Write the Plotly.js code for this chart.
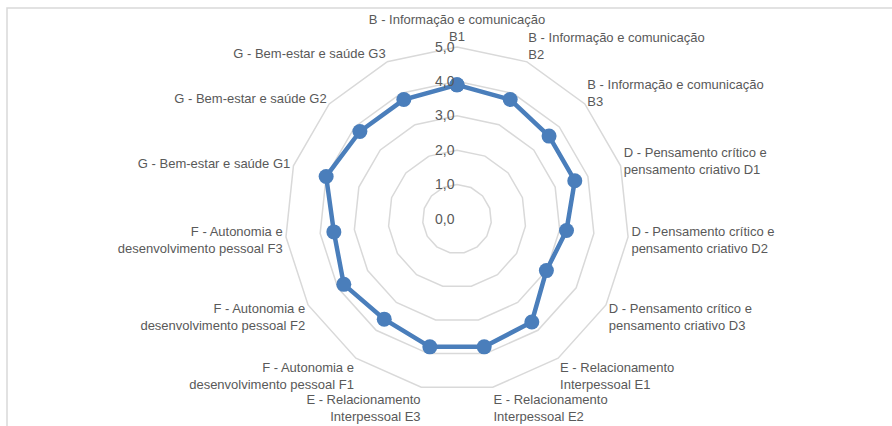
<!DOCTYPE html>
<html>
<head>
<meta charset="utf-8">
<script src="https://cdn.plot.ly/plotly-3.0.1.min.js"></script>
<style>
  html, body { margin: 0; padding: 0; background: #fff; }
  #chart { width: 892px; height: 426px; }
</style>
</head>
<body>
<div id="chart"></div>
<script>
const categories = [
  "B - Informação e comunicação<br>B1",
  "B - Informação e comunicação<br>B2",
  "B - Informação e comunicação<br>B3",
  "D - Pensamento crítico e<br>pensamento criativo D1",
  "D - Pensamento crítico e<br>pensamento criativo D2",
  "D - Pensamento crítico e<br>pensamento criativo D3",
  "E - Relacionamento<br>Interpessoal E1",
  "E - Relacionamento<br>Interpessoal E2",
  "E - Relacionamento<br>Interpessoal E3",
  "F - Autonomia e<br>desenvolvimento pessoal F1",
  "F - Autonomia e<br>desenvolvimento pessoal F2",
  "F - Autonomia e<br>desenvolvimento pessoal F3",
  "G - Bem-estar e saúde G1",
  "G - Bem-estar e saúde G2",
  "G - Bem-estar e saúde G3"
];
const scores = [3.9, 3.8, 3.6, 3.6, 3.2, 3.0, 3.7, 3.8, 3.8, 3.6, 3.8, 3.6, 4.0, 3.8, 3.8];

const gridColor = '#d9d9d9';
const textColor = '#595959';
const lineBlue = '#4a7ebb';

const trace = {
  type: 'scatterpolar',
  r: scores.concat([scores[0]]),
  theta: categories.concat([categories[0]]),
  mode: 'lines+markers',
  line: { color: lineBlue, width: 4.5 },
  marker: { color: lineBlue, size: 15 },
  hoverinfo: 'skip',
  showlegend: false
};

const layout = {
  width: 892,
  height: 426,
  margin: { t: 0, r: 0, b: 0, l: 0 },
  paper_bgcolor: '#fff',
  separators: ',.',
  font: { family: 'Liberation Sans, Arial, sans-serif', size: 13, color: textColor },
  polar: {
    domain: { x: [0.3195, 0.7052], y: [0.0822, 0.8897] },
    gridshape: 'linear',
    bgcolor: 'rgba(0,0,0,0)',
    radialaxis: {
      range: [0, 5],
      dtick: 1,
      tick0: 0,
      tickformat: '.1f',
      angle: 90,
      tickangle: 90,
      side: 'counterclockwise',
      showline: false,
      ticks: '',
      gridcolor: gridColor,
      gridwidth: 1.5,
      tickfont: { size: 14, color: textColor }
    },
    angularaxis: {
      direction: 'clockwise',
      rotation: 90,
      showline: true,
      linecolor: gridColor,
      linewidth: 1.5,
      gridcolor: 'rgba(0,0,0,0)',
      ticks: '',
      tickfont: { size: 13, color: textColor }
    }
  },
  shapes: [{
    type: 'rect', xref: 'paper', yref: 'paper',
    x0: 7 / 892, x1: 1.2, y0: -0.2, y1: 1 - 8 / 426,
    line: { color: gridColor, width: 1.5 },
    layer: 'below'
  }]
};

Plotly.newPlot('chart', [trace], layout, { displayModeBar: false, staticPlot: true });
</script>
</body>
</html>
